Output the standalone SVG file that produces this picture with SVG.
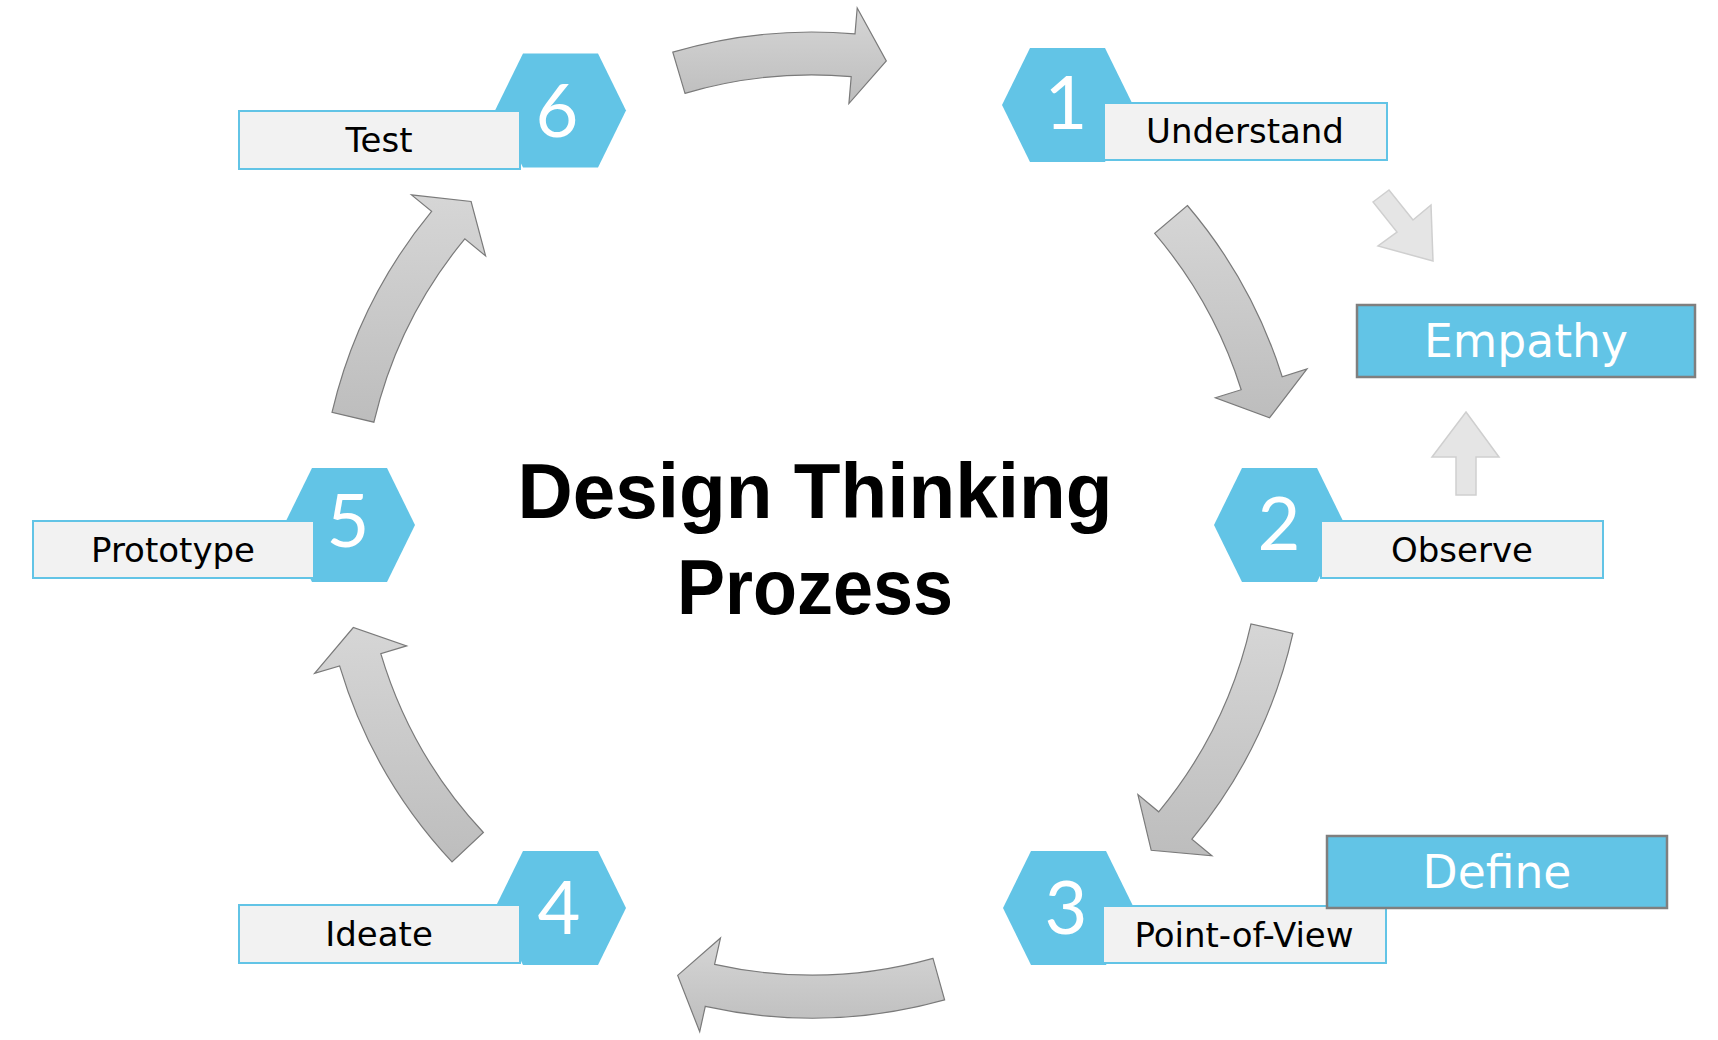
<svg xmlns="http://www.w3.org/2000/svg" width="1718" height="1040" viewBox="0 0 1718 1040">
<style>
.hex{fill:#62c4e6;}
.box{fill:#f2f2f2;stroke:#62c4e6;stroke-width:2;}
.lbl{font-family:"DejaVu Sans",sans-serif;font-size:34px;fill:#000;text-anchor:middle;}
.num{font-family:Lato,"DejaVu Sans",sans-serif;font-weight:400;font-size:74px;fill:#fff;text-anchor:middle;}
.phase{fill:#62c4e6;stroke:#7f7f7f;stroke-width:2.5;}
.phlbl{font-family:"DejaVu Sans",sans-serif;font-size:45.6px;fill:#fff;text-anchor:middle;}
.big{fill:url(#g);stroke:#7a7a7a;stroke-width:1.2;stroke-linejoin:miter;}
.small{fill:#e5e5e5;stroke:#cfcfcf;stroke-width:1.5;}
.title{font-family:"Liberation Sans",Arial,sans-serif;font-weight:bold;font-size:77px;fill:#000;text-anchor:middle;}
</style>
<defs>
<linearGradient id="g" x1="0" y1="0" x2="0" y2="1">
<stop offset="0" stop-color="#d6d6d6"/>
<stop offset="1" stop-color="#bdbdbd"/>
</linearGradient>
<polygon id="hx" points="-65.5,0 -37.5,-57 37.5,-57 65.5,0 37.5,57 -37.5,57"/>
</defs>
<rect width="1718" height="1040" fill="#fff"/>

<g id="connectors">
<path class="big" d="M672.8,52.1 A493,493 0 0 1 855.0,33.9 L857.2,8.0 L886.3,60.9 L848.9,103.6 L851.2,76.7 A450,450 0 0 0 685.0,93.3 Z"/>
<path class="big" d="M1187.4,205.5 A493,493 0 0 1 1282.2,376.8 L1307.0,368.9 L1269.6,417.7 L1215.4,397.8 L1241.2,389.7 A450,450 0 0 0 1154.7,233.4 Z"/>
<path class="big" d="M1292.9,633.4 A493,493 0 0 1 1191.9,839.2 L1211.9,855.8 L1151.2,850.3 L1137.9,794.6 L1158.7,811.8 A450,450 0 0 0 1251.0,623.9 Z"/>
<path class="big" d="M944.6,999.9 A493,493 0 0 1 705.3,1006.3 L699.7,1031.7 L677.7,975.4 L720.5,938.0 L714.6,964.3 A450,450 0 0 0 933.0,958.4 Z"/>
<path class="big" d="M452.0,861.9 A493,493 0 0 1 339.6,665.9 L314.6,673.3 L353.3,627.5 L406.6,645.9 L380.8,653.6 A450,450 0 0 0 483.4,832.5 Z"/>
<path class="big" d="M332.0,412.4 A493,493 0 0 1 431.6,211.4 L411.5,194.9 L471.1,201.5 L485.6,255.9 L464.8,238.8 A450,450 0 0 0 373.9,422.2 Z"/>
<polygon class="small" points="1373,202 1389,190 1413,220 1431,205 1433,261 1378,246 1397,232"/>
<polygon class="small" points="1466,412 1499,457 1476,457 1476,495 1456,495 1456,457 1432,457"/>
</g>

<g id="title">
<text class="title" x="815" y="518" textLength="595" lengthAdjust="spacingAndGlyphs">Design Thinking</text>
<text class="title" x="815" y="614" textLength="276" lengthAdjust="spacingAndGlyphs">Prozess</text>
</g>

<g id="node-1">
<use href="#hx" class="hex" x="1067.5" y="105"/>
<text class="num" x="1066" y="129">1</text>
<rect class="box" x="1104" y="103" width="283" height="57"/>
<text class="lbl" x="1245" y="143">Understand</text>
</g>

<g id="node-2">
<use href="#hx" class="hex" x="1279.5" y="525"/>
<text class="num" x="1279" y="550">2</text>
<rect class="box" x="1321" y="521" width="282" height="57"/>
<text class="lbl" x="1462" y="562">Observe</text>
</g>

<g id="node-3">
<use href="#hx" class="hex" x="1068.5" y="908"/>
<text class="num" x="1066" y="934">3</text>
<rect class="box" x="1103" y="906" width="283" height="57"/>
<text class="lbl" x="1244" y="947">Point-of-View</text>
</g>

<g id="node-4">
<use href="#hx" class="hex" x="560.5" y="908"/>
<text class="num" x="559" y="934">4</text>
<rect class="box" x="239" y="905" width="281" height="58"/>
<text class="lbl" x="379" y="946">Ideate</text>
</g>

<g id="node-5">
<use href="#hx" class="hex" x="349.5" y="525"/>
<text class="num" x="348" y="547">5</text>
<rect class="box" x="33" y="521" width="281" height="57"/>
<text class="lbl" x="173" y="562">Prototype</text>
</g>

<g id="node-6">
<use href="#hx" class="hex" x="560.5" y="110.5"/>
<text class="num" x="557" y="137">6</text>
<rect class="box" x="239" y="111" width="281" height="58"/>
<text class="lbl" x="379" y="152">Test</text>
</g>

<g id="empathy">
<rect class="phase" x="1357" y="305" width="338" height="72"/>
<text class="phlbl" x="1526" y="357">Empathy</text>
</g>

<g id="define">
<rect class="phase" x="1327" y="836" width="340" height="72"/>
<text class="phlbl" x="1497" y="888">Define</text>
</g>
</svg>
